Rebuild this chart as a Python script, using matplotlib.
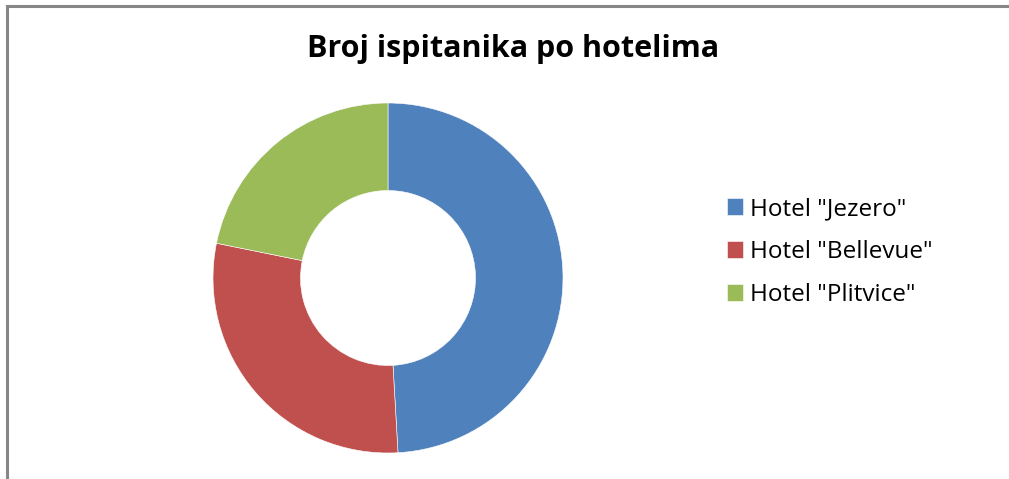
import matplotlib.pyplot as plt
from matplotlib.lines import Line2D

# podaci
hotels = ['Hotel "Jezero"', 'Hotel "Bellevue"', 'Hotel "Plitvice"']
counts = [27, 16, 12]
colors = ['#4F81BD', '#C0504D', '#9BBB59']

W, H = 1009, 479
fig = plt.figure(figsize=(W / 100, H / 100), dpi=100)

# okvir (lijevo i gore)
fig.add_artist(Line2D([7 / W, 7 / W], [0, 1 - 6 / H], color='#878787', lw=2.2))
fig.add_artist(Line2D([7 / W, 1008 / W], [1 - 6 / H, 1 - 6 / H], color='#878787', lw=2.2))

cx, cy, r = 388, 278, 175
ax = fig.add_axes([(cx - r) / W, (H - cy - r) / H, 2 * r / W, 2 * r / H])
wedges, _ = ax.pie(counts, colors=colors, startangle=90, counterclock=False,
                   radius=1, wedgeprops=dict(width=0.5, edgecolor='white', linewidth=0.4))
ax.set_xlim(-1, 1)
ax.set_ylim(-1, 1)
ax.set_aspect('equal')
ax.axis('off')

fig.text(513 / W, 1 - 49 / H, "Broj ispitanika po hotelima", ha='center', va='center',
         fontsize=22, fontweight='bold', family='Open Sans')

fig.legend(wedges, hotels, loc='center left', bbox_to_anchor=(727 / W, 1 - 252 / H),
           frameon=False, prop={'family': 'Open Sans', 'size': 17.5},
           borderpad=0, borderaxespad=0,
           handlelength=0.65, handleheight=0.65, handletextpad=0.3, labelspacing=0.78)

fig.savefig('out.png', dpi=100)
